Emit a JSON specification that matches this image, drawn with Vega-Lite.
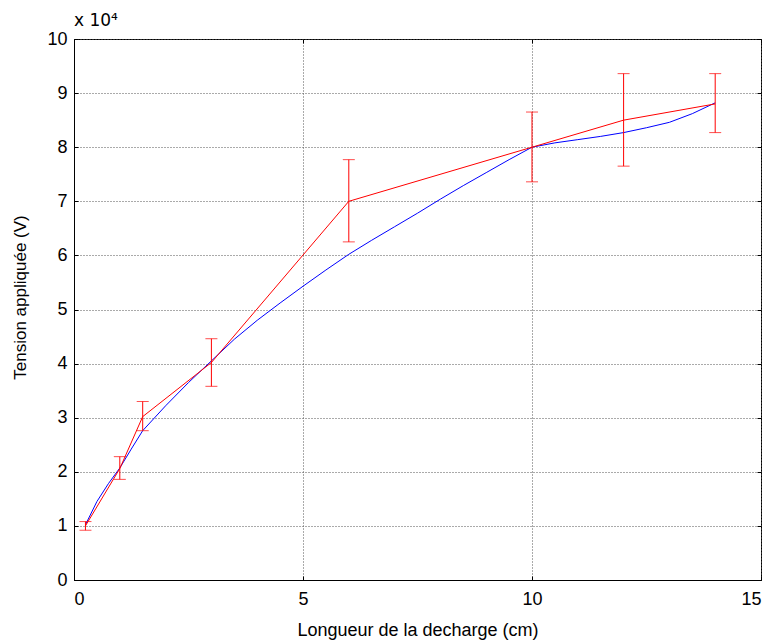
{
  "$schema": "https://vega.github.io/schema/vega-lite/v6.json",
  "width": 687,
  "height": 541,
  "autosize": "none",
  "padding": {"left": 74, "top": 39, "right": 14, "bottom": 63},
  "background": "white",
  "title": {"text": "x 10⁴", "anchor": "start", "frame": "group", "fontSize": 17, "fontWeight": "normal", "font": "DejaVu Sans", "offset": 0, "dy": 0, "color": "black"},
  "config": {
    "view": {"stroke": "black", "strokeWidth": 1},
    "axis": {
      "labelFont": "Liberation Sans", "titleFont": "Liberation Sans",
      "labelFontSize": 18, "titleFontSize": 18, "titleFontWeight": "normal",
      "labelColor": "black", "titleColor": "black",
      "domainColor": "black", "tickColor": "black",
      "gridColor": "#555", "gridDash": [1, 2], "gridWidth": 1, "gridOpacity": 1,
      "tickSize": -4
    }
  },
  "datasets": {
    "blue": [
      {"x": 0.25, "y": 10200}, {"x": 0.5, "y": 14500}, {"x": 0.75, "y": 17800},
      {"x": 1.0, "y": 20700}, {"x": 1.25, "y": 24200}, {"x": 1.5, "y": 27600},
      {"x": 2.0, "y": 32200}, {"x": 2.5, "y": 36500}, {"x": 3.0, "y": 40500},
      {"x": 3.5, "y": 44500}, {"x": 4.0, "y": 48000}, {"x": 4.5, "y": 51200},
      {"x": 5.0, "y": 54300}, {"x": 5.5, "y": 57300}, {"x": 6.0, "y": 60200},
      {"x": 6.5, "y": 62800}, {"x": 7.0, "y": 65300}, {"x": 7.5, "y": 67800},
      {"x": 8.0, "y": 70400}, {"x": 8.5, "y": 72900}, {"x": 9.0, "y": 75300},
      {"x": 9.5, "y": 77700}, {"x": 10.0, "y": 80000}, {"x": 10.5, "y": 80800},
      {"x": 11.0, "y": 81400}, {"x": 11.5, "y": 82000}, {"x": 12.0, "y": 82700},
      {"x": 12.5, "y": 83600}, {"x": 13.0, "y": 84600}, {"x": 13.5, "y": 86200},
      {"x": 14.0, "y": 88200}
    ],
    "red": [
      {"x": 0.25, "y": 10000, "lo": 9200, "hi": 10800},
      {"x": 1.0, "y": 20600, "lo": 18600, "hi": 22800},
      {"x": 1.5, "y": 30200, "lo": 27600, "hi": 33000},
      {"x": 3.0, "y": 40200, "lo": 35800, "hi": 44600},
      {"x": 6.0, "y": 70000, "lo": 62500, "hi": 77700},
      {"x": 10.0, "y": 80000, "lo": 73600, "hi": 86500},
      {"x": 12.0, "y": 85000, "lo": 76500, "hi": 93600},
      {"x": 14.0, "y": 88000, "lo": 82700, "hi": 93600}
    ]
  },
  "layer": [
    {
      "data": {"name": "blue"},
      "mark": {"type": "line", "color": "#0000ff", "strokeWidth": 1},
      "encoding": {
        "x": {"field": "x", "type": "quantitative",
              "scale": {"domain": [0, 15], "nice": false},
              "axis": {"orient": "bottom", "values": [0, 5, 10, 15], "grid": true,
                       "title": "Longueur de la decharge (cm)", "labelPadding": 14,
                       "titleY": 55, "titleBaseline": "alphabetic"}},
        "y": {"field": "y", "type": "quantitative",
              "scale": {"domain": [0, 100000], "nice": false},
              "axis": {"orient": "left", "values": [0, 10000, 20000, 30000, 40000, 50000, 60000, 70000, 80000, 90000, 100000],
                       "labelExpr": "datum.value / 10000", "grid": true, "labelPadding": 11,
                       "title": "Tension appliquée (V)", "titleFontSize": 17,
                       "titleX": -54, "titleY": 258, "titleAngle": -90, "titleAlign": "center", "titleBaseline": "middle"}}
      }
    },
    {
      "data": {"name": "red"},
      "mark": {"type": "line", "color": "#ff0000", "strokeWidth": 1},
      "encoding": {
        "x": {"field": "x", "type": "quantitative",
              "axis": {"orient": "top", "values": [0, 5, 10, 15], "labels": false, "grid": false, "title": null, "domain": false}},
        "y": {"field": "y", "type": "quantitative",
              "axis": {"orient": "right", "values": [0, 10000, 20000, 30000, 40000, 50000, 60000, 70000, 80000, 90000, 100000], "labels": false, "grid": false, "title": null, "domain": false}}
      }
    },
    {
      "data": {"name": "red"},
      "mark": {"type": "rule", "color": "#ff0000", "strokeWidth": 1},
      "encoding": {
        "x": {"field": "x", "type": "quantitative", "axis": null},
        "y": {"field": "lo", "type": "quantitative", "axis": null},
        "y2": {"field": "hi"}
      }
    },
    {
      "data": {"name": "red"},
      "mark": {"type": "tick", "color": "#ff0000", "orient": "horizontal", "size": 12, "thickness": 1},
      "encoding": {
        "x": {"field": "x", "type": "quantitative", "axis": null},
        "y": {"field": "lo", "type": "quantitative", "axis": null}
      }
    },
    {
      "data": {"name": "red"},
      "mark": {"type": "tick", "color": "#ff0000", "orient": "horizontal", "size": 12, "thickness": 1},
      "encoding": {
        "x": {"field": "x", "type": "quantitative", "axis": null},
        "y": {"field": "hi", "type": "quantitative", "axis": null}
      }
    }
  ],
  "resolve": {"axis": {"x": "independent", "y": "independent"}}
}
